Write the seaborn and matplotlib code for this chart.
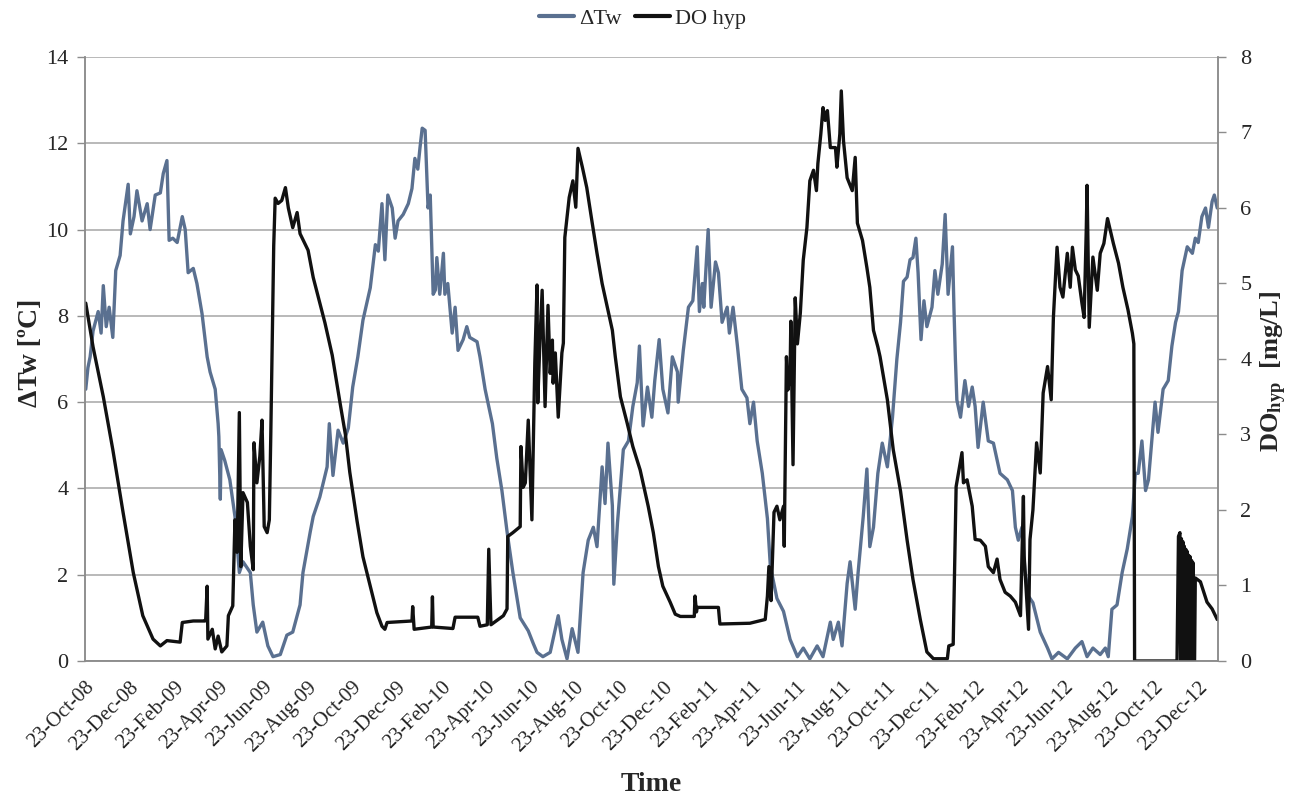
import numpy as np
import pandas as pd
import matplotlib
matplotlib.use("Agg")
import matplotlib.pyplot as plt
import seaborn as sns
from matplotlib.lines import Line2D

# ---------------- data ----------------
start_date = "2008-10-23"

# Delta Tw (degC): day offsets from start_date and values
dtw_days = [1, 4, 7, 11, 18, 22, 25, 29, 33, 38, 42, 48, 52, 59, 62, 67, 71, 78, 85, 89,
            96, 103, 107, 112, 115, 120, 126, 133, 137, 141, 148, 153, 160, 167, 171, 178,
            182, 183, 185, 186, 191, 198, 205, 211, 216, 226, 230, 235, 243, 250, 257, 267,
            276, 284, 294, 298, 308, 312, 321, 331, 334, 339, 346, 353, 360, 366, 373, 380,
            390, 397, 401, 406, 410, 414, 420, 424, 428, 435, 442, 447, 451, 455, 458, 461,
            465, 469, 472, 476, 479, 481, 485, 490, 492, 496, 502, 506, 510, 517, 522, 526,
            536, 540, 547, 557, 563, 570, 577, 585, 595, 606, 613, 618, 626, 636, 647, 652,
            659, 666, 674, 681, 688, 695, 700, 707, 711, 715, 721, 723, 728, 736, 743, 749,
            755, 758, 763, 769, 775, 779, 785, 790, 797, 803, 810, 811, 818, 825, 831, 837,
            840, 844, 846, 852, 856, 862, 866, 871, 878, 881, 886, 892, 898, 905, 909, 914,
            919, 926, 933, 937, 946, 955, 964, 974, 982, 991, 1001, 1009, 1019, 1023, 1030,
            1035, 1042, 1046, 1053, 1057, 1064, 1069, 1073, 1078, 1084, 1090, 1097, 1104,
            1110, 1115, 1119, 1124, 1128, 1132, 1136, 1139, 1143, 1147, 1151, 1158, 1162,
            1166, 1172, 1176, 1180, 1186, 1188, 1190, 1192, 1197, 1203, 1208, 1213, 1217,
            1221, 1228, 1235, 1242, 1251, 1261, 1268, 1272, 1276, 1281, 1285, 1290, 1296,
            1306, 1316, 1322, 1331, 1343, 1354, 1363, 1370, 1378, 1388, 1395, 1399, 1404,
            1411, 1418, 1425, 1432, 1436, 1440, 1445, 1450, 1454, 1459, 1463, 1467, 1474,
            1481, 1486, 1491, 1495, 1500, 1507, 1514, 1518, 1522, 1527, 1532, 1536, 1541,
            1544, 1548]
dtw_vals = [6.3, 6.8, 7.05, 7.65, 8.1, 7.6, 8.7, 7.75, 8.2, 7.5, 9.05, 9.4, 10.2, 11.05, 9.9,
            10.3, 10.9, 10.2, 10.6, 10.0, 10.8, 10.85, 11.3, 11.6, 9.75, 9.8, 9.7, 10.3, 10.0,
            9.0, 9.1, 8.75, 8.05, 7.05, 6.7, 6.3, 5.5, 5.2, 3.75, 4.9, 4.65, 4.2, 3.35, 2.05,
            2.3, 2.05, 1.3, 0.67, 0.9, 0.35, 0.1, 0.15, 0.6, 0.67, 1.3, 2.05, 3.0, 3.35, 3.8,
            4.5, 5.5, 4.3, 5.35, 5.05, 5.4, 6.35, 7.05, 7.9, 8.65, 9.65, 9.5, 10.6, 9.3, 10.8,
            10.5, 9.8, 10.2, 10.35, 10.6, 10.95, 11.65, 11.4, 11.9, 12.35, 12.3, 10.5, 10.8,
            8.5, 8.6, 9.35, 8.5, 9.45, 8.5, 8.75, 7.6, 8.2, 7.2, 7.45, 7.75, 7.5, 7.4, 7.05,
            6.3, 5.5, 4.7, 3.95, 3.0, 2.05, 1.0, 0.7, 0.4, 0.2, 0.1, 0.2, 1.05, 0.5, 0.05,
            0.75, 0.2, 2.05, 2.8, 3.1, 2.65, 4.5, 3.65, 5.05, 3.6, 1.78, 3.2, 4.9, 5.1, 5.9,
            6.45, 7.3, 5.45, 6.35, 5.65, 6.5, 7.45, 6.3, 5.75, 7.05, 6.7, 6.0, 7.2, 8.2, 8.35,
            9.6, 8.1, 8.75, 8.2, 10.0, 8.2, 9.25, 9.0, 7.85, 8.2, 7.6, 8.2, 7.3, 6.3, 6.1, 5.5,
            6.0, 5.1, 4.35, 3.3, 2.2, 1.45, 1.15, 0.5, 0.1, 0.3, 0.05, 0.35, 0.1, 0.9, 0.5,
            0.9, 0.35, 1.8, 2.3, 1.2, 2.05, 3.35, 4.45, 2.65, 3.1, 4.35, 5.05, 4.5, 5.65, 7.0,
            7.85, 8.8, 8.9, 9.3, 9.35, 9.8, 9.0, 7.45, 8.35, 7.75, 8.2, 9.05, 8.5, 9.2, 10.35,
            8.5, 9.6, 8.2, 7.0, 6.05, 5.65, 6.5, 5.9, 6.35, 5.9, 4.95, 6.0, 5.1, 5.05, 4.35,
            4.2, 3.95, 3.1, 2.8, 3.1, 2.1, 1.5, 1.35, 0.67, 0.3, 0.05, 0.2, 0.05, 0.3, 0.45,
            0.1, 0.3, 0.15, 0.3, 0.1, 1.2, 1.3, 2.05, 2.6, 3.35, 4.35, 4.35, 5.1, 3.95, 4.2,
            5.2, 6.0, 5.3, 6.3, 6.5, 7.3, 7.85, 8.1, 9.05, 9.6, 9.45, 9.8, 9.7, 10.3, 10.5,
            10.05, 10.65, 10.8, 10.5]

# Hypolimnion dissolved oxygen (mg/L): day offsets from start_date and values
do_days = [1, 11, 25, 38, 52, 66, 79, 93, 103, 112, 130, 133, 148, 164, 165, 167, 168, 174,
           178, 182, 187, 194, 196, 202, 205, 208, 211, 213, 216, 222, 226, 230, 231, 235,
           239, 242, 245, 249, 252, 254, 256, 258, 260, 264, 269, 274, 278, 284, 290, 294,
           305, 312, 319, 328, 338, 349, 356, 362, 372, 380, 390, 399, 406, 410, 413, 447,
           448, 450, 474, 475, 476, 503, 506, 537, 540, 550, 552, 555, 572, 577, 578, 585,
           595, 596, 599, 602, 606, 609, 611, 615, 618, 619, 622, 625, 629, 633, 636, 639,
           640, 643, 647, 652, 654, 656, 659, 662, 666, 667, 671, 674, 680, 686, 693, 700,
           707, 714, 721, 725, 732, 741, 749, 759, 770, 777, 784, 790, 800, 807, 814, 833,
           834, 836, 837, 866, 868, 909, 930, 933, 935, 938, 942, 946, 950, 955, 956, 959,
           961, 964, 965, 968, 971, 974, 978, 982, 987, 991, 996, 1000, 1002, 1006, 1009,
           1012, 1015, 1019, 1026, 1028, 1032, 1034, 1037, 1042, 1049, 1053, 1056, 1063,
           1069, 1073, 1078, 1084, 1087, 1097, 1105, 1115, 1124, 1132, 1142, 1151, 1160,
           1179, 1181, 1187, 1191, 1199, 1201, 1206, 1213, 1217, 1224, 1231, 1235, 1242,
           1247, 1251, 1258, 1265, 1272, 1279, 1283, 1284, 1290, 1292, 1296, 1301, 1306,
           1310, 1316, 1321, 1324, 1329, 1333, 1337, 1343, 1347, 1350, 1354, 1358, 1363,
           1366, 1369, 1370, 1373, 1378, 1384, 1388, 1393, 1398, 1406, 1413, 1419, 1426,
           1432, 1434, 1435, 1493, 1495, 1497, 1498, 1499, 1500, 1501, 1502, 1503, 1504,
           1505, 1506, 1507, 1508, 1509, 1510, 1511, 1512, 1513, 1514, 1515, 1516, 1517,
           1518, 1525, 1534, 1541, 1548]
do_vals = [4.74, 4.16, 3.5, 2.8, 1.97, 1.17, 0.6, 0.29, 0.2, 0.27, 0.25, 0.51, 0.53, 0.53,
           0.55, 0.99, 0.29, 0.42, 0.16, 0.33, 0.12, 0.2, 0.6, 0.73, 1.87, 1.44, 3.29, 1.25,
           2.23, 2.1, 1.52, 1.21, 2.89, 2.36, 2.71, 3.19, 1.78, 1.7, 1.87, 3.0, 4.25, 5.5,
           6.13, 6.06, 6.1, 6.27, 6.0, 5.74, 5.94, 5.66, 5.44, 5.08, 4.82, 4.48, 4.05, 3.4,
           3.0, 2.5, 1.85, 1.38, 0.99, 0.64, 0.46, 0.42, 0.51, 0.53, 0.72, 0.42, 0.45, 0.85,
           0.45, 0.43, 0.58, 0.58, 0.46, 0.48, 1.48, 0.48, 0.6, 0.69, 1.65, 1.7, 1.78, 2.84,
           2.3, 2.36, 3.19, 2.4, 1.87, 3.95, 4.98, 3.42, 4.25, 4.91, 3.37, 4.71, 3.81, 4.25,
           3.68, 4.08, 3.23, 4.08, 4.21, 5.61, 5.87, 6.14, 6.32, 6.36, 6.01, 6.79, 6.54, 6.27,
           5.83, 5.4, 5.0, 4.69, 4.38, 4.03, 3.5, 3.16, 2.84, 2.53, 2.05, 1.7, 1.25, 0.99,
           0.78, 0.62, 0.59, 0.59, 0.86, 0.65, 0.71, 0.71, 0.49, 0.5, 0.55, 0.86, 1.25, 0.8,
           1.97, 2.05, 1.87, 2.05, 1.52, 4.03, 3.59, 3.81, 4.5, 2.6, 4.81, 4.2, 4.61, 5.31,
           5.74, 6.36, 6.5, 6.23, 6.59, 6.98, 7.33, 7.16, 7.29, 6.8, 6.8, 6.54, 6.98, 7.55,
           6.89, 6.4, 6.23, 6.67, 5.8, 5.57, 5.21, 4.95, 4.38, 4.16, 4.03, 3.46, 2.8, 2.25,
           1.6, 1.08, 0.55, 0.12, 0.03, 0.03, 0.2, 0.22, 2.31, 2.76, 2.36, 2.4, 2.05, 1.61,
           1.6, 1.52, 1.25, 1.17, 1.35, 1.08, 0.91, 0.86, 0.78, 0.6, 2.18, 1.39, 0.42, 1.61,
           2.0, 2.89, 2.49, 3.55, 3.9, 3.46, 4.55, 5.48, 4.95, 4.82, 5.4, 4.95, 5.48, 5.18,
           5.1, 4.74, 4.55, 5.74, 6.3, 4.42, 5.35, 4.91, 5.4, 5.53, 5.86, 5.53, 5.27, 4.95,
           4.65, 4.34, 4.2, 0.0, 0.0, 1.65, 1.7, 0.0, 1.62, 0.0, 1.58, 0.0, 1.52, 0.0, 1.48,
           0.0, 1.45, 0.0, 1.4, 0.0, 1.38, 0.0, 1.33, 0.0, 1.3, 0.0, 0.0, 1.1, 1.05, 0.78,
           0.69, 0.55]

tick_labels = ["23-Oct-08", "23-Dec-08", "23-Feb-09", "23-Apr-09", "23-Jun-09", "23-Aug-09",
               "23-Oct-09", "23-Dec-09", "23-Feb-10", "23-Apr-10", "23-Jun-10", "23-Aug-10",
               "23-Oct-10", "23-Dec-10", "23-Feb-11", "23-Apr-11", "23-Jun-11", "23-Aug-11",
               "23-Oct-11", "23-Dec-11", "23-Feb-12", "23-Apr-12", "23-Jun-12", "23-Aug-12",
               "23-Oct-12", "23-Dec-12"]
axis_days = 1549
left_ticks = [0, 2, 4, 6, 8, 10, 12, 14]
right_ticks = [0, 1, 2, 3, 4, 5, 6, 7, 8]

# ---------------- frames ----------------
t0 = pd.Timestamp(start_date)
df_t = pd.DataFrame({"date": t0 + pd.to_timedelta(dtw_days, unit="D"), "val": dtw_vals})
df_o = pd.DataFrame({"date": t0 + pd.to_timedelta(do_days, unit="D"), "val": do_vals})
tick_dates = pd.to_datetime(tick_labels, format="%d-%b-%y")

# ---------------- style ----------------
sns.set_style("white")
plt.rcParams["font.family"] = ["Liberation Serif", "DejaVu Serif"]
plt.rcParams["mathtext.fontset"] = "custom"
plt.rcParams["mathtext.rm"] = "Liberation Serif"
plt.rcParams["mathtext.bf"] = "Liberation Serif:bold"
plt.rcParams["mathtext.it"] = "Liberation Serif:italic"

blue = "#5a7090"
black = "#111111"
gray = "#8c8c8c"

fig = plt.figure(figsize=(12.92, 7.96), dpi=100)
ax = fig.add_axes([0.0658, 0.1696, 0.8769, 0.7588])
ax2 = ax.twinx()

sns.lineplot(data=df_t, x="date", y="val", ax=ax, color=blue, lw=2.4,
             estimator=None, legend=False)
sns.lineplot(data=df_o, x="date", y="val", ax=ax2, color=black, lw=2.4,
             estimator=None, legend=False)

ax.set_xlim(t0, t0 + pd.Timedelta(days=axis_days))
ax.set_ylim(0, 14)
ax2.set_ylim(0, 8)
ax.set_yticks(left_ticks)
ax2.set_yticks(right_ticks)

ax.set_xticks(tick_dates)
ax.set_xticklabels(tick_labels, rotation=45, ha="right", rotation_mode="anchor",
                   fontsize=15)
ax.tick_params(axis="x", direction="out", length=6, width=1, color=gray, pad=6)
ax.tick_params(axis="y", direction="out", length=6, width=1, color=gray, labelsize=16, pad=6)
ax2.tick_params(axis="y", direction="out", length=6, width=1, color=gray, labelsize=16, pad=10)

ax.grid(axis="y", color="#a6a6a6", lw=1.1)
ax.grid(axis="x", visible=False)
ax2.grid(False)
for a in (ax, ax2):
    a.spines["top"].set_visible(False)
    for s in ("left", "right", "bottom"):
        a.spines[s].set_color(gray)
        a.spines[s].set_linewidth(1.1)

ax.set_xlabel("Time", fontsize=20, fontweight="bold", labelpad=12)
ax.set_ylabel("ΔTw [ºC]", fontsize=20, fontweight="bold")
ax.yaxis.set_label_coords(-0.037, 0.51)
ax2.set_ylabel(r"$\mathbf{DO}_{\mathbf{hyp}}$  [mg/L]", fontsize=19, fontweight="bold")
ax2.yaxis.set_label_coords(1.036, 0.48)

handles = [Line2D([0], [0], color=blue, lw=3), Line2D([0], [0], color=black, lw=3)]
fig.legend(handles, ["ΔTw", "DO hyp"], loc="center", bbox_to_anchor=(0.497, 0.977),
           ncol=2, frameon=False, fontsize=16, handlelength=1.6, handletextpad=0.2,
           columnspacing=0.6)

fig.savefig("out.png", dpi=100)
